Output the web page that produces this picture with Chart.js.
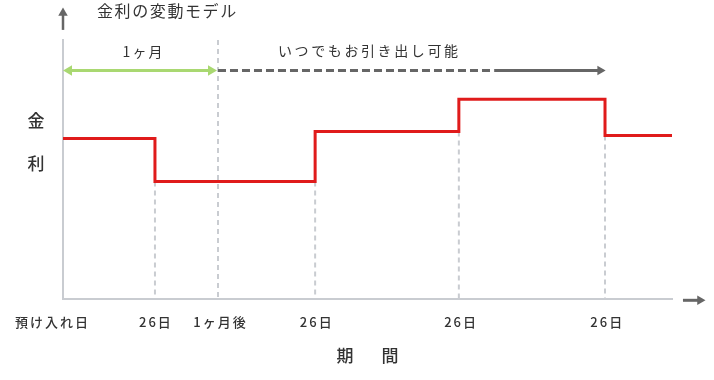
<!DOCTYPE html>
<html lang="ja">
<head>
<meta charset="utf-8">
<script src="https://cdn.jsdelivr.net/npm/chart.js@4"></script>
<style>
  html, body { margin: 0; padding: 0; background: #fff; }
  #wrap { width: 714px; height: 380px; }
</style>
</head>
<body>
<div id="wrap"><canvas id="rateChart" width="714" height="380"></canvas></div>
<script>
// Period axis runs 0..100 (schematic), rate axis 0..10 (schematic)
const periodStarts = [0, 15.1, 41.4, 65.0, 89.0];
const periodEnd = 100;
const rateLevels = [6.2, 4.54, 6.47, 7.71, 6.31];

// vertical guide lines: where they sit and how high they go
const guideX = [15.1, 25.45, 41.4, 65.0, 89.0];
const guideTop = [4.54, 10, 4.54, 6.47, 6.31];

// x axis labels
const tickLabels = ['預け入れ日', '26日', '1ヶ月後', '26日', '26日', '26日'];
const tickValues = [-1.9, 15.1, 25.7, 41.5, 65.2, 89.2];

// "1ヶ月" / "いつでもお引き出し可能" arrows
const arrowLevel = 8.82;
const monthArrow = [0.99, 24.3];
const anytimeDashed = [25.45, 70.9];
const anytimeSolid = [70.9, 88.2];

// axis arrows (shaft start, head centre)
const yArrow = [10.39, 11.04];
const xArrow = [101.8, 104.6];

const RED = '#e01b1b';
const GREEN = '#a9d871';
const DARK = '#666666';
const GUIDE = '#c9ccd1';
const TEXT = '#333333';
const FONT = '"Noto Sans CJK JP", "Noto Sans", sans-serif';

// build step points
const ratePoints = periodStarts.map((x, i) => ({ x: x, y: rateLevels[i] }));
ratePoints.push({ x: periodEnd, y: rateLevels[rateLevels.length - 1] });

const guidePoints = [];
guideX.forEach((x, i) => {
  guidePoints.push({ x: x, y: guideTop[i] });
  guidePoints.push({ x: x, y: 0 });
  guidePoints.push({ x: x, y: null });
});

function drawSpaced(ctx, text, x, y, spacing, align) {
  ctx.letterSpacing = spacing + 'px';
  const w = ctx.measureText(text).width - spacing;
  let left = x;
  if (align === 'center') left = x - w / 2;
  ctx.textAlign = 'left';
  ctx.fillText(text, left, y);
}

// axis arrow heads sit outside the chart area, so points there are skipped;
// draw a triangle at the last point of datasets flagged with arrowHead
const arrowHeadPlugin = {
  id: 'arrowHeads',
  afterDatasetsDraw(chart) {
    const ctx = chart.ctx;
    chart.data.datasets.forEach((ds, i) => {
      if (!ds.arrowHead) return;
      const pts = chart.getDatasetMeta(i).data;
      const p = pts[pts.length - 1];
      const r = ds.arrowHead;
      const rad = (ds.arrowRotation || 0) * Math.PI / 180;
      ctx.save();
      ctx.fillStyle = ds.borderColor;
      ctx.beginPath();
      let a = rad;
      ctx.moveTo(p.x + Math.sin(a) * r, p.y - Math.cos(a) * r);
      a += Math.PI * 2 / 3;
      ctx.lineTo(p.x + Math.sin(a) * r, p.y - Math.cos(a) * r);
      a += Math.PI * 2 / 3;
      ctx.lineTo(p.x + Math.sin(a) * r, p.y - Math.cos(a) * r);
      ctx.closePath();
      ctx.fill();
      ctx.restore();
    });
  }
};

const labelsPlugin = {
  id: 'labels',
  afterDraw(chart) {
    const ctx = chart.ctx;
    const xs = chart.scales.x;
    ctx.save();
    ctx.fillStyle = TEXT;
    ctx.textBaseline = 'middle';

    // title
    ctx.font = '16px ' + FONT;
    drawSpaced(ctx, '金利の変動モデル', 97, 11, 1.6, 'left');

    // arrow captions
    ctx.font = '14px ' + FONT;
    drawSpaced(ctx, '1ヶ月', (xs.getPixelForValue(0) + xs.getPixelForValue(anytimeDashed[0])) / 2 + 2, 52, 2.2, 'center');
    drawSpaced(ctx, 'いつでもお引き出し可能', 368, 51, 2.6, 'center');

    // y axis title
    ctx.font = '500 17px ' + FONT;
    drawSpaced(ctx, '金', 36, 121, 0, 'center');
    drawSpaced(ctx, '利', 36, 164, 0, 'center');

    // x axis title
    drawSpaced(ctx, '期', 345, 356, 0, 'center');
    drawSpaced(ctx, '間', 390, 356, 0, 'center');

    // tick labels
    ctx.font = '500 13px ' + FONT;
    tickLabels.forEach((t, i) => {
      drawSpaced(ctx, t, xs.getPixelForValue(tickValues[i]), 322, 2, 'center');
    });
    ctx.restore();
  }
};

const ctx = document.getElementById('rateChart').getContext('2d');
new Chart(ctx, {
  type: 'line',
  data: {
    datasets: [
      {
        label: 'rate',
        data: ratePoints,
        stepped: 'before',
        borderColor: RED,
        borderWidth: 3,
        borderJoinStyle: 'miter',
        borderCapStyle: 'butt',
        pointRadius: 0
      },
      {
        label: 'month',
        data: monthArrow.map(x => ({ x: x, y: arrowLevel })),
        borderColor: GREEN,
        backgroundColor: GREEN,
        borderWidth: 3,
        pointStyle: 'triangle',
        pointRadius: 6,
        pointRotation: [-90, 90],
        pointBorderWidth: 0,
        pointBackgroundColor: GREEN
      },
      {
        label: 'anytimeDashed',
        data: anytimeDashed.map(x => ({ x: x, y: arrowLevel })),
        borderColor: DARK,
        borderWidth: 3,
        borderDash: [8, 4],
        pointRadius: 0
      },
      {
        label: 'anytimeSolid',
        data: anytimeSolid.map(x => ({ x: x, y: arrowLevel })),
        borderColor: DARK,
        borderWidth: 3,
        pointStyle: 'triangle',
        pointRadius: [0, 5.5],
        pointRotation: 90,
        pointBorderWidth: 0,
        pointBackgroundColor: DARK
      },
      {
        label: 'guides',
        data: guidePoints,
        borderColor: GUIDE,
        borderWidth: 2,
        borderDash: [5, 4],
        pointRadius: 0,
        spanGaps: false
      },
      {
        label: 'yArrow',
        data: yArrow.map(y => ({ x: 0, y: y })),
        clip: false,
        borderColor: DARK,
        borderWidth: 2.5,
        pointRadius: 0,
        arrowHead: 5.5,
        arrowRotation: 0
      },
      {
        label: 'xArrow',
        data: xArrow.map(x => ({ x: x, y: -0.05 })),
        clip: false,
        borderColor: DARK,
        borderWidth: 3,
        pointRadius: 0,
        arrowHead: 5.5,
        arrowRotation: 90
      }
    ]
  },
  options: {
    responsive: false,
    animation: false,
    layout: { padding: { left: 63, top: 40, right: 42, bottom: 81 } },
    plugins: {
      legend: { display: false },
      tooltip: { enabled: false }
    },
    scales: {
      x: {
        type: 'linear',
        min: 0,
        max: 100,
        ticks: { display: false },
        grid: { display: false, drawTicks: false },
        border: { display: true, color: GUIDE, width: 2 }
      },
      y: {
        type: 'linear',
        min: 0,
        max: 10,
        ticks: { display: false },
        grid: { display: false, drawTicks: false },
        border: { display: true, color: GUIDE, width: 2 }
      }
    }
  },
  plugins: [arrowHeadPlugin, labelsPlugin]
});
</script>
</body>
</html>
